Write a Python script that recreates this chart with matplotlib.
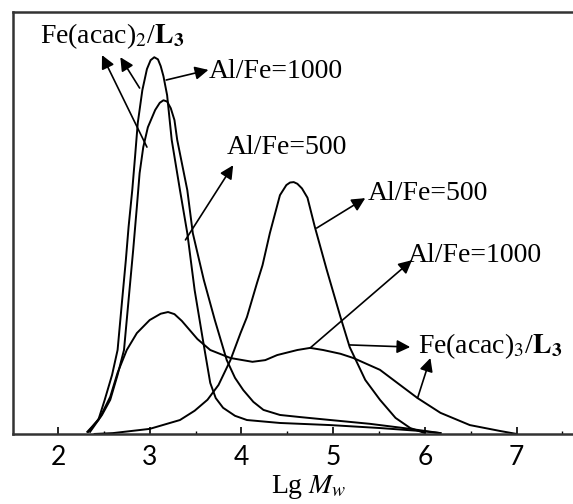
import numpy as np
import matplotlib.pyplot as plt
from matplotlib.ticker import MultipleLocator

plt.rcParams['font.family'] = ['Liberation Serif', 'DejaVu Serif']
plt.rcParams['mathtext.fontset'] = 'stix'

# GPC traces, Lg Mw vs normalised signal
x_fe2_1000 = [2.32, 2.44, 2.51, 2.59, 2.65, 2.70, 2.74, 2.77, 2.81, 2.84, 2.87, 2.92, 2.97,
              3.01, 3.05, 3.09, 3.12, 3.15, 3.19, 3.24, 3.33, 3.41, 3.49, 3.58, 3.66, 3.72,
              3.80, 3.93, 4.06, 4.42, 4.97, 5.51, 5.95, 6.17]
y_fe2_1000 = [0.005, 0.033, 0.081, 0.140, 0.199, 0.318, 0.412, 0.491, 0.578, 0.656, 0.737,
              0.815, 0.865, 0.886, 0.893, 0.888, 0.872, 0.848, 0.803, 0.697, 0.578, 0.476,
              0.341, 0.223, 0.121, 0.085, 0.062, 0.043, 0.033, 0.026, 0.021, 0.014, 0.007,
              0.002]

x_fe2_500 = [2.35, 2.48, 2.57, 2.65, 2.72, 2.77, 2.82, 2.86, 2.89, 2.93, 2.98, 3.06, 3.11,
             3.15, 3.19, 3.23, 3.27, 3.30, 3.41, 3.47, 3.59, 3.71, 3.84, 3.93, 4.02, 4.13,
             4.24, 4.42, 4.64, 4.97, 5.40, 5.84, 6.17]
y_fe2_500 = [0.005, 0.045, 0.081, 0.140, 0.199, 0.318, 0.436, 0.538, 0.618, 0.680, 0.727,
             0.768, 0.785, 0.791, 0.788, 0.772, 0.744, 0.697, 0.578, 0.476, 0.365, 0.270,
             0.175, 0.133, 0.104, 0.076, 0.057, 0.045, 0.040, 0.033, 0.024, 0.012, 0.002]

x_fe3_500 = [2.40, 2.60, 3.00, 3.33, 3.49, 3.63, 3.75, 3.88, 3.99, 4.06, 4.17, 4.23, 4.31,
             4.42, 4.49, 4.53, 4.57, 4.61, 4.66, 4.72, 4.80, 4.93, 5.08, 5.18, 5.35, 5.51,
             5.68, 5.84, 6.00]
y_fe3_500 = [0.0, 0.002, 0.012, 0.033, 0.055, 0.081, 0.116, 0.175, 0.239, 0.277, 0.358,
             0.400, 0.476, 0.566, 0.590, 0.596, 0.597, 0.593, 0.582, 0.560, 0.491, 0.389,
             0.277, 0.206, 0.128, 0.081, 0.038, 0.014, 0.002]

x_fe3_1000 = [2.33, 2.46, 2.57, 2.65, 2.75, 2.86, 3.00, 3.12, 3.20, 3.27, 3.35, 3.52, 3.66,
              3.88, 4.12, 4.26, 4.39, 4.61, 4.75, 4.89, 5.08, 5.22, 5.51, 5.73, 5.92, 6.17,
              6.49, 6.82, 7.00]
y_fe3_1000 = [0.005, 0.040, 0.088, 0.145, 0.199, 0.239, 0.270, 0.285, 0.289, 0.284, 0.268,
              0.225, 0.199, 0.180, 0.171, 0.175, 0.187, 0.199, 0.204, 0.199, 0.190, 0.180,
              0.152, 0.116, 0.085, 0.050, 0.021, 0.007, 0.0]

fig = plt.figure(figsize=(5.73, 5.04), dpi=100)
ax = fig.add_axes([0.0227, 0.139, 1.031, 0.837])

for xs, ys in [(x_fe2_1000, y_fe2_1000), (x_fe2_500, y_fe2_500),
               (x_fe3_500, y_fe3_500), (x_fe3_1000, y_fe3_1000)]:
    ax.plot(xs, ys, color='black', lw=1.4)

ax.set_xlim(1.51, 7.95)
ax.set_ylim(0, 1)
ax.set_yticks([])
ax.xaxis.set_major_locator(MultipleLocator(1))
ax.xaxis.set_minor_locator(MultipleLocator(0.5))
ax.tick_params(axis='x', which='major', direction='in', length=5, width=1.2, pad=8,
               labelsize=19, labelfontfamily='Lato', top=False)
ax.tick_params(axis='x', which='minor', direction='in', length=2.5, width=1.0, top=False)
for s in ax.spines.values():
    s.set_linewidth(1.8)
    s.set_color('#333333')
ax.set_xlabel(r'Lg $M_w$', fontsize=20, labelpad=2)

arrow = dict(arrowstyle='-|>', mutation_scale=20, lw=1.2, color='black',
             shrinkA=0, shrinkB=0)


def pointer(tail, tip):
    ax.annotate('', xy=tip, xytext=tail, arrowprops=arrow)


fs = 20
ax.text(1.80, 0.943, r'Fe(acac)$_2$/$\mathbf{L_3}$', fontsize=fs, va='center')
pointer((2.97, 0.680), (2.48, 0.898))
pointer((2.89, 0.820), (2.68, 0.893))

ax.text(3.64, 0.858, 'Al/Fe=1000', fontsize=fs, va='center')
pointer((3.18, 0.839), (3.64, 0.863))

ax.text(3.84, 0.678, 'Al/Fe=500', fontsize=fs, va='center')
pointer((3.39, 0.460), (3.91, 0.637))

ax.text(5.38, 0.569, 'Al/Fe=500', fontsize=fs, va='center')
pointer((4.82, 0.488), (5.35, 0.559))

ax.text(5.81, 0.424, 'Al/Fe=1000', fontsize=fs, va='center')
pointer((4.75, 0.204), (5.86, 0.412))

ax.text(5.93, 0.209, r'Fe(acac)$_3$/$\mathbf{L_3}$', fontsize=fs, va='center')
pointer((5.18, 0.211), (5.84, 0.206))
pointer((5.92, 0.085), (6.06, 0.180))

fig.savefig('out.png', dpi=100)
